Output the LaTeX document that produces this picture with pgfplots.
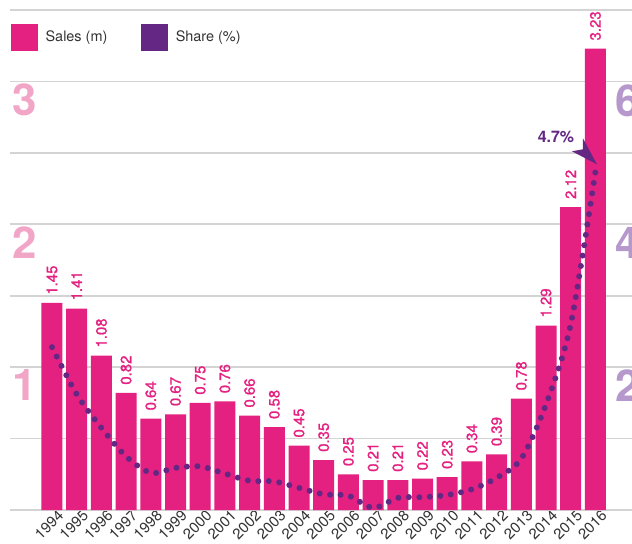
\documentclass[border=0pt]{standalone}
\usepackage{pgfplots}
\pgfplotsset{compat=1.18}
\usepackage{fontspec}
\setmainfont{TeX Gyre Heros}
\newfontfamily\medfont[FakeBold=1.2]{TeX Gyre Heros}
\definecolor{salescol}{RGB}{228,32,128}
\definecolor{sharecol}{RGB}{100,40,132}
\definecolor{leftnum}{RGB}{241,166,200}
\definecolor{rightnum}{RGB}{182,152,204}
\definecolor{gridcol}{RGB}{212,212,212}
\definecolor{textgray}{RGB}{51,51,51}
\pgfplotstableread{
year sales
1994 1.45
1995 1.41
1996 1.08
1997 0.82
1998 0.64
1999 0.67
2000 0.75
2001 0.76
2002 0.66
2003 0.58
2004 0.45
2005 0.35
2006 0.25
2007 0.21
2008 0.21
2009 0.22
2010 0.23
2011 0.34
2012 0.39
2013 0.78
2014 1.29
2015 2.12
2016 3.23
}\salestable
\pgfplotstableread{
year share
1994 2.28
1995 1.62
1996 1.15
1997 0.75
1998 0.52
1999 0.59
2000 0.61
2001 0.51
2002 0.41
2003 0.40
2004 0.31
2005 0.22
2006 0.20
2007 0.03
2008 0.17
2009 0.18
2010 0.21
2011 0.29
2012 0.45
2013 0.72
2014 1.48
2015 2.60
2016 4.74
}\sharetable
\begin{document}
\begin{tikzpicture}
\begin{axis}[
  at={(0,0)}, anchor=south west,
  scale only axis, width=622bp, height=500bp,
  xmin=1992.3, xmax=2017.48, ymin=0, ymax=3.5,
  clip=false,
  ybar, bar width=21bp, bar shift=0pt,
  axis line style={draw=none},
  major tick length=0pt,
  ytick={0.5,1,...,3.5}, yticklabels={},
  ymajorgrids,
  major grid style={color=gridcol, line width=1.6bp},
  extra y ticks={0}, extra y tick labels={},
  extra y tick style={grid style={color=gridcol, line width=2.6bp}},
  xtick={1994,...,2016},
  xticklabels={1994,1995,1996,1997,1998,1999,2000,2001,2002,2003,2004,2005,2006,2007,2008,2009,2010,2011,2012,2013,2014,2015,2016},
  xticklabel style={rotate=45, anchor=north east, inner sep=0pt, font=\fontsize{15}{15}\selectfont, text=textgray, xshift=4bp, yshift=-3bp},
  nodes near coords,
  nodes near coords style={rotate=90, anchor=west, inner sep=0pt,
    font=\medfont\fontsize{15}{15}\selectfont, text=salescol,
    /pgf/number format/assume math mode=true,
    /pgf/number format/fixed, /pgf/number format/fixed zerofill, /pgf/number format/precision=2},
  legend columns=2,
  legend cell align=left,
  legend style={at={(rel axis cs:0.0016,0.946)}, anchor=west, draw=none, fill=none,
    inner sep=0pt, font=\fontsize{14.5}{16}\selectfont, text=textgray,
    /tikz/every odd column/.append style={column sep=6bp},
    /tikz/every even column/.append style={column sep=32bp}},
]
\addplot[forget plot, fill=salescol, draw=none, every node near coord/.append style={xshift=8bp}] table[x=year, y=sales] {\salestable};
\addlegendimage{legend image code/.code={\fill[salescol] (0bp,-13bp) rectangle (26bp,13bp);}}
\addlegendentry{Sales (m)}
\addlegendimage{legend image code/.code={\fill[sharecol] (0bp,-13bp) rectangle (26bp,13bp);}}
\addlegendentry{Share (\%)}
\node[anchor=north west, inner sep=0pt, text=leftnum, font=\fontsize{44}{44}\selectfont\bfseries] at (axis cs:1992.38,0.985) {1};
\node[anchor=north west, inner sep=0pt, text=leftnum, font=\fontsize{44}{44}\selectfont\bfseries] at (axis cs:1992.38,1.985) {2};
\node[anchor=north west, inner sep=0pt, text=leftnum, font=\fontsize{44}{44}\selectfont\bfseries] at (axis cs:1992.38,2.985) {3};
\end{axis}
\begin{axis}[
  at={(0,0)}, anchor=south west,
  scale only axis, width=622bp, height=500bp,
  xmin=1992.3, xmax=2017.48, ymin=0, ymax=7,
  hide axis, clip=false,
]
\addplot[sharecol, smooth, tension=0.5, line width=6bp, line cap=round, dash pattern=on 0bp off 10.5bp] table[x=year, y=share] {\sharetable};
\node[anchor=north west, inner sep=0pt, text=rightnum, font=\fontsize{44}{44}\selectfont\bfseries] at (axis cs:2016.79,1.96) {2};
\node[anchor=north west, inner sep=0pt, text=rightnum, font=\fontsize{44}{44}\selectfont\bfseries] at (axis cs:2016.79,3.96) {4};
\node[anchor=north west, inner sep=0pt, text=rightnum, font=\fontsize{44}{44}\selectfont\bfseries] at (axis cs:2016.79,5.96) {6};
\node[text=sharecol, font=\fontsize{16}{16}\selectfont\bfseries] at (axis cs:2014.4,5.22) {4.7\%};
\fill[sharecol] (axis cs:2016.06,4.84) -- ++(-25bp,13bp) -- ++(11bp,2bp) -- ++(0bp,11bp) -- cycle;
\end{axis}
\pgfresetboundingbox
\useasboundingbox (-10bp,-34bp) rectangle (622bp,510bp);
\end{tikzpicture}
\end{document}
